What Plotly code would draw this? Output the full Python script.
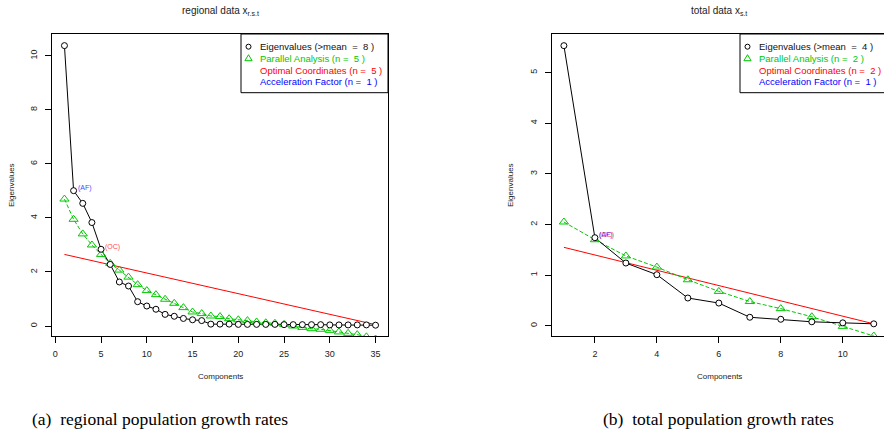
import plotly.graph_objects as go

W, H = 884, 440

# ---------------- data ----------------
comp_r = list(range(1, 36))
eig_r = [10.38, 5.01, 4.54, 3.83, 2.84, 2.28, 1.63, 1.48, 0.90, 0.74,
         0.62, 0.43, 0.36, 0.28, 0.23, 0.20, 0.07, 0.07, 0.07, 0.06,
         0.06, 0.06, 0.06, 0.06, 0.05, 0.05, 0.05, 0.05, 0.05, 0.04,
         0.04, 0.04, 0.04, 0.04, 0.03]
pa_r = [4.70, 3.95, 3.41, 3.00, 2.65, 2.32, 2.07, 1.81, 1.53, 1.31,
        1.16, 0.99, 0.84, 0.68, 0.52, 0.46, 0.37, 0.35, 0.27, 0.23,
        0.20, 0.15, 0.12, 0.10, 0.06, 0.00, -0.05, -0.10, -0.12, -0.16,
        -0.22, -0.27, -0.32, -0.40, -0.48]
oc_x_r = [1, 35]
oc_y_r = [2.65, 0.05]

comp_t = list(range(1, 12))
eig_t = [5.53, 1.74, 1.24, 1.01, 0.55, 0.45, 0.17, 0.13, 0.08, 0.06, 0.04]
pa_t = [2.05, 1.70, 1.38, 1.16, 0.91, 0.68, 0.48, 0.34, 0.18, -0.01, -0.20]
oc_x_t = [1, 11]
oc_y_t = [1.55, 0.04]

legend_r = ["Eigenvalues (&gt;mean\u00a0 =\u00a0 8 )", "Parallel Analysis (n =\u00a0 5 )",
            "Optimal Coordinates (n =\u00a0 5 )", "Acceleration Factor (n =\u00a0 1 )"]
legend_t = ["Eigenvalues (&gt;mean\u00a0 =\u00a0 4 )", "Parallel Analysis (n =\u00a0 2 )",
            "Optimal Coordinates (n =\u00a0 2 )", "Acceleration Factor (n =\u00a0 1 )"]
af_r = (2, eig_r[1]); oc_r = (5, eig_r[4])
af_t = (2, eig_t[1]); oc_t = (2, eig_t[1])

# ---------------- style ----------------
GREEN = "#00C800"
RED = "#FF0000"
BLUE = "#0000FF"
FONT = "Liberation Sans, Arial, sans-serif"


def px(x):
    return x / W


def py(y):
    return 1 - y / H


fig = go.Figure()


def add_panel(xa, ya, comp, eig, pa, ocx, ocy):
    fig.add_trace(go.Scatter(x=ocx, y=ocy, mode="lines", line=dict(color=RED, width=1),
                             xaxis=xa, yaxis=ya, showlegend=False, hoverinfo="skip"))
    fig.add_trace(go.Scatter(x=comp, y=pa, mode="lines", line=dict(color=GREEN, width=1, dash="4px,2px"),
                             xaxis=xa, yaxis=ya, showlegend=False, hoverinfo="skip"))
    fig.add_trace(go.Scatter(x=comp, y=eig, mode="lines", line=dict(color="black", width=1),
                             xaxis=xa, yaxis=ya, showlegend=False, hoverinfo="skip"))
    fig.add_trace(go.Scatter(x=comp, y=pa, mode="markers",
                             marker=dict(symbol="triangle-up-open", size=8, color=GREEN,
                                         line=dict(color=GREEN, width=1)),
                             xaxis=xa, yaxis=ya, showlegend=False, cliponaxis=True))
    fig.add_trace(go.Scatter(x=comp, y=eig, mode="markers",
                             marker=dict(symbol="circle", size=6, color="white",
                                         line=dict(color="black", width=1)),
                             xaxis=xa, yaxis=ya, showlegend=False, cliponaxis=True))


add_panel("x", "y", comp_r, eig_r, pa_r, oc_x_r, oc_y_r)
add_panel("x2", "y2", comp_t, eig_t, pa_t, oc_x_t, oc_y_t)

axis_common = dict(showline=True, mirror=True, linecolor="black", linewidth=1,
                   ticks="outside", ticklen=6, tickcolor="black", showgrid=False,
                   zeroline=False, tickfont=dict(family=FONT, size=9, color="#222"))

fig.update_layout(
    width=W, height=H, margin=dict(l=0, r=0, t=0, b=0),
    paper_bgcolor="white", plot_bgcolor="white", showlegend=False,
    xaxis=dict(domain=[px(52), px(388)], range=[-0.36, 36.36], tickvals=[0, 5, 10, 15, 20, 25, 30, 35],
               anchor="y", ticklabelstandoff=3, **axis_common),
    yaxis=dict(domain=[py(336), py(34)], range=[-0.37, 10.81], tickvals=[0, 2, 4, 6, 8, 10],
               anchor="x", tickangle=-90, ticklabelstandoff=4, **axis_common),
    xaxis2=dict(domain=[px(551.5), px(884)], range=[0.6, 11.33], tickvals=[2, 4, 6, 8, 10],
                anchor="y2", ticklabelstandoff=3, **axis_common),
    yaxis2=dict(domain=[py(336), py(34)], range=[-0.2, 5.76], tickvals=[0, 1, 2, 3, 4, 5],
                anchor="x2", tickangle=-90, ticklabelstandoff=4, **axis_common),
)

ann = []
shapes = []


def text(x, y, s, size, color="#222", xanchor="center", family=FONT, angle=0):
    ann.append(dict(x=px(x), y=py(y), xref="paper", yref="paper", text=s, showarrow=False,
                    xanchor=xanchor, yanchor="middle", textangle=angle,
                    font=dict(family=family, size=size, color=color)))


# titles
text(220, 11, "regional data x<sub>r.s.t</sub>", 10)
text(719, 11, "total data x<sub>s.t</sub>", 10)
# axis titles
text(220, 376, "Components", 8)
text(719, 376, "Components", 8)
text(12, 185, "Eigenvalues", 8, angle=-90)
text(511, 185, "Eigenvalues", 8, angle=-90)
# captions
SERIF = "Liberation Serif, Times New Roman, serif"
text(160, 419, "(a)\u00a0 regional population growth rates", 17.5, color="black", family=SERIF)
text(718, 419, "(b)\u00a0 total population growth rates", 17.5, color="black", family=SERIF)

# legends
colors = ["#111", GREEN, RED, BLUE]
rows = [46.7, 58.8, 70.2, 81.3]
for lx, rx, labels in [(241, 388, legend_r), (740, 890, legend_t)]:
    shapes.append(dict(type="rect", xref="paper", yref="paper", x0=px(lx), x1=px(rx),
                       y0=py(92.7), y1=py(34), line=dict(color="black", width=1),
                       fillcolor="white", layer="above"))
    mx = lx + 7.5
    shapes.append(dict(type="circle", xref="paper", yref="paper", x0=px(mx - 2.5), x1=px(mx + 2.5),
                       y0=py(rows[0] + 2.5), y1=py(rows[0] - 2.5), line=dict(color="black", width=1),
                       layer="above"))
    ty = rows[1] - 0.5
    shapes.append(dict(type="path", xref="paper", yref="paper",
                       path=f"M {px(mx-3.6)},{py(ty+2.4)} L {px(mx+3.6)},{py(ty+2.4)} L {px(mx)},{py(ty-3.6)} Z",
                       line=dict(color=GREEN, width=1), layer="above"))
    for lab, c, ry in zip(labels, colors, rows):
        text(lx + 17, ry, lab, 9.5, color=c, xanchor="left")

# (AF)/(OC) labels on points
for (xa, ya, pt, lab, col) in [("x", "y", af_r, "(AF)", BLUE), ("x", "y", oc_r, "(OC)", RED),
                               ("x2", "y2", oc_t, "(OC)", RED), ("x2", "y2", af_t, "(AF)", BLUE)]:
    ann.append(dict(x=pt[0], y=pt[1], xref=xa, yref=ya, text=lab, showarrow=False,
                    xanchor="left", yanchor="middle", xshift=2, yshift=2.5,
                    font=dict(family=FONT, size=7, color=col), opacity=0.75))

fig.update_layout(annotations=ann, shapes=shapes)
fig.write_html("out.html", config={"displayModeBar": False},
               post_script="document.body.style.margin='0';document.body.style.padding='0';"
                           "document.body.style.overflow='hidden';")
